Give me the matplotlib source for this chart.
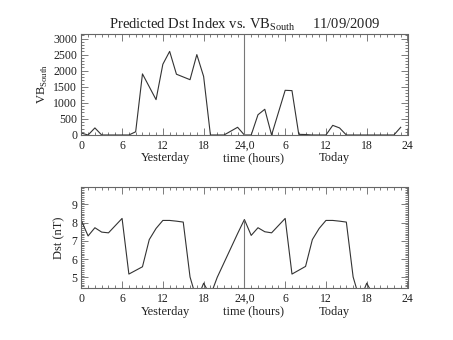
import matplotlib
matplotlib.use("Agg")
import matplotlib.pyplot as plt
from matplotlib.ticker import MultipleLocator, FixedLocator

plt.rcParams['font.family'] = ['Liberation Serif', 'DejaVu Serif']
plt.rcParams['mathtext.fontset'] = 'custom'
plt.rcParams['mathtext.rm'] = 'Liberation Serif'

# VB_south (hourly, yesterday 0-23, today 24-47)
vb_hours = [0, 1, 2, 3, 7, 8, 9, 11, 12, 13, 14, 16, 17, 18, 19, 21, 23, 24,
            25, 26, 27, 28, 30, 31, 32, 33, 34, 36, 37, 38, 39, 46, 47]
vb_values = [60, 0, 220, 0, 0, 100, 1900, 1100, 2200, 2600, 1890, 1720, 2500, 1820, 0, 0, 240, 0,
             0, 630, 800, 0, 1390, 1380, 20, 15, 0, 0, 300, 220, 0, 0, 240]

# Predicted Dst (nT)
dst_hours = [0, 1, 2, 3, 4, 6, 7, 9, 10, 11, 12, 13, 14, 15, 16, 17, 18, 19, 20, 21, 22, 23,
             24, 25, 26, 27, 28, 30, 31, 33, 34, 35, 36, 37, 38, 39, 40, 41, 42, 43]
dst_values = [8.12, 7.27, 7.72, 7.48, 7.44, 8.23, 5.18, 5.58, 7.07, 7.68, 8.12, 8.12, 8.08, 8.03,
              5.02, 3.75, 4.68, 4.0, 5.0, 5.8, 6.6, 7.4,
              8.17, 7.3, 7.72, 7.5, 7.44, 8.23, 5.18, 5.6, 7.07, 7.68, 8.12, 8.12, 8.08, 8.03,
              5.02, 3.75, 4.68, 4.0]

xtick_pos = [0, 6, 12, 18, 24, 30, 36, 42, 48]
xtick_labels = ['0', '6', '12', '18', '24,0', '6', '12', '18', '24']

title = r'Predicted Dst Index vs. VB$_{\mathrm{South}}$     11/09/2009'

W, H = 453, 340
fig = plt.figure(figsize=(W / 100, H / 100), dpi=100)

def px_axes(left, top, right, bottom):
    return fig.add_axes([left / W, 1 - bottom / H, (right - left) / W, (bottom - top) / H])

ax1 = px_axes(81.3, 33.7, 407.5, 135.0)
ax2 = px_axes(81.3, 186.5, 407.5, 288.3)

line_kw = dict(color='#333333', lw=0.8)
frame_col = '#666666'
text_col = '#222222'

def style(ax):
    for s in ax.spines.values():
        s.set_color(frame_col)
        s.set_linewidth(0.8)
    ax.set_xlim(0, 48)
    ax.xaxis.set_major_locator(FixedLocator(xtick_pos))
    ax.set_xticklabels(xtick_labels)
    ax.xaxis.set_minor_locator(MultipleLocator(1))
    ax.tick_params(which='both', direction='in', top=True, right=True,
                   color=frame_col, width=0.6, labelsize=8.5, labelcolor=text_col)
    ax.tick_params(which='major', length=5)
    ax.tick_params(which='minor', length=2.5)
    ax.tick_params(axis='x', which='major', pad=3.5)
    ax.tick_params(axis='y', which='major', pad=3)
    for lab, t in zip(['Yesterday', 'time (hours)', 'Today'], [12.4, 25.3, 37.3]):
        ax.text(t, -0.17, lab, transform=ax.get_xaxis_transform(), ha='center', va='top',
                fontsize=9, color=text_col)

ax1.plot(vb_hours, vb_values, **line_kw)
ax1.axvline(24, color='#777777', lw=0.8)
ax1.set_ylim(0, 3150)
ax1.yaxis.set_major_locator(MultipleLocator(500))
ax1.yaxis.set_minor_locator(MultipleLocator(100))
style(ax1)
ax1.set_ylabel(r'VB$_{\mathrm{South}}$', fontsize=9, color=text_col, labelpad=2)
ax1.set_title(title, fontsize=10.5, color=text_col, pad=4)

ax2.plot(dst_hours, dst_values, **line_kw)
ymin2 = 4.4
ax2.vlines(24, ymin2, dst_values[dst_hours.index(24)], color='#777777', lw=0.8)
ax2.set_ylim(ymin2, 9.98)
ax2.yaxis.set_major_locator(MultipleLocator(1))
ax2.yaxis.set_minor_locator(MultipleLocator(0.1))
style(ax2)
ax2.set_ylabel('Dst (nT)', fontsize=9, color=text_col, labelpad=4)

fig.savefig('out.png', dpi=100, facecolor='white')
